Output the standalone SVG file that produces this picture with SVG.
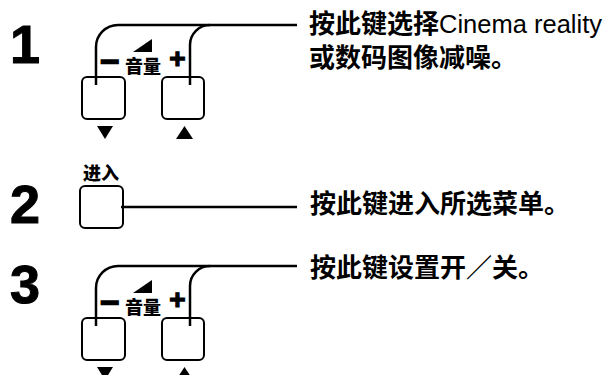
<svg xmlns="http://www.w3.org/2000/svg" width="616" height="375" viewBox="0 0 616 375">
<style>
.num{font-family:"Liberation Sans",Arial,sans-serif;font-weight:bold;font-size:54px;fill:#000;stroke:#000;stroke-width:1}
.lbl{font-family:"Liberation Sans","Noto Sans CJK SC",sans-serif;font-weight:bold;font-size:26px;fill:#000}
.lat{font-weight:normal;font-size:25.5px}
.small{font-family:"Noto Sans CJK SC",sans-serif;font-weight:900;font-size:18px;fill:#000}
.sym{font-family:"Liberation Sans",Arial,sans-serif;font-weight:bold;fill:#000;stroke:#000;stroke-width:1.2}
.btn{fill:#fff;stroke:#000;stroke-width:2}
.wire{fill:none;stroke:#000;stroke-width:2.5}
.tri{fill:#000}
</style>
<defs>
<g id="volpad">
<text class="sym" x="110" y="73" font-size="34" text-anchor="middle">−</text>
<text class="small" x="125" y="73">音量</text>
<text class="sym" x="177.5" y="68" font-size="28" text-anchor="middle">+</text>
<polygon class="tri" points="133,52 152,39 152,52"/>
<rect class="btn" x="82" y="77" width="43" height="42" rx="5"/>
<rect class="btn" x="162" y="77" width="42" height="42" rx="5"/>
<polygon class="tri" points="97,126 113,126 105,139"/>
<polygon class="tri" points="176,139 193,139 184.5,126"/>
</g>
</defs>
<g id="step1">
<text class="num" x="10" y="63">1</text>
<use href="#volpad"/>
<text class="lbl" x="309" y="33">按此键选择<tspan class="lat">Cinema reality</tspan></text>
<text class="lbl" x="309" y="66.5">或数码图像减噪。</text>
</g>
<g id="step2">
<text class="num" x="10" y="223">2</text>
<text class="small" x="83" y="180" font-size="19">进入</text>
<rect class="btn" x="80" y="186" width="43" height="42" rx="5"/>
<text class="lbl" x="310" y="212.5">按此键进入所选菜单。</text>
</g>
<g id="step3">
<text class="num" x="10" y="303">3</text>
<use href="#volpad" transform="translate(0,241)"/>
<text class="lbl" x="310" y="276.5">按此键设置开／关。</text>
</g>
<g id="connectors">
<path class="wire" d="M297,25 H118 A22,22 0 0 0 96,47 V85"/>
<path class="wire" d="M210,25 A20,20 0 0 0 190,45 V85"/>
<path class="wire" d="M121,207 H297"/>
<path class="wire" d="M297,266 H118 A22,22 0 0 0 96,288 V326"/>
<path class="wire" d="M210,266 A20,20 0 0 0 190,286 V326"/>
</g>
</svg>
